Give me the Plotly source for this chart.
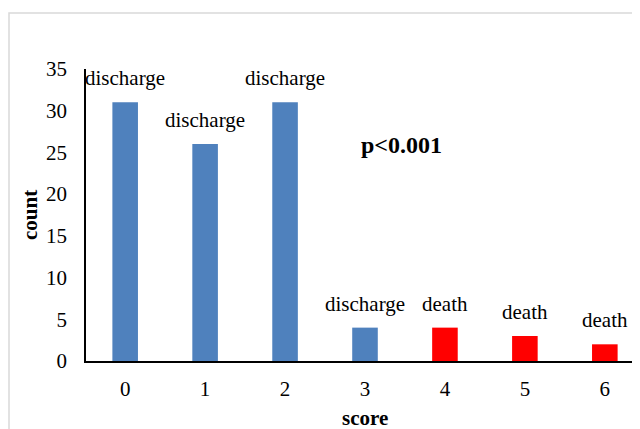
import plotly.graph_objects as go

scores = [0, 1, 2, 3, 4, 5, 6]
counts = [31, 26, 31, 4, 4, 3, 2]
outcomes = ["discharge", "discharge", "discharge", "discharge", "death", "death", "death"]
outcome_colors = {"discharge": "#4F81BD", "death": "#FF0000"}
y_ticks = [0, 5, 10, 15, 20, 25, 30, 35]

FONT = "Liberation Serif, Times New Roman, serif"
FS = 21

fig = go.Figure()
fig.add_trace(go.Bar(
    x=scores, y=counts, width=0.32,
    marker=dict(color=[outcome_colors[o] for o in outcomes], line=dict(width=0)),
    showlegend=False, hoverinfo="skip",
))

for s, c, o in zip(scores, counts, outcomes):
    fig.add_annotation(x=s, y=c, text=o, showarrow=False, xanchor="center",
                       yanchor="bottom", yshift=10,
                       font=dict(family=FONT, size=FS, color="black"))

fig.add_annotation(x=3.46, y=25.9, text="<b>p<0.001</b>", showarrow=False,
                   xanchor="center", yanchor="middle",
                   font=dict(family=FONT, size=24, color="black"))

# axis titles
fig.add_annotation(xref="paper", yref="paper", x=(365 - 86) / 554, y=-0.195,
                   text="<b>score</b>", showarrow=False, xanchor="center", yanchor="middle",
                   font=dict(family=FONT, size=FS, color="black"))
fig.add_annotation(xref="paper", yref="paper", x=-0.101, y=0.5, textangle=-90,
                   text="<b>count</b>", showarrow=False, xanchor="center", yanchor="middle",
                   font=dict(family=FONT, size=FS, color="black"))

# chart area border
fig.add_shape(type="rect", xref="paper", yref="paper",
              x0=-0.139, x1=1.05, y0=-0.4, y1=1.192,
              line=dict(color="#D9D9D9", width=1.5), fillcolor="rgba(0,0,0,0)")

fig.update_layout(
    width=640, height=429,
    margin=dict(l=78, r=8, t=61, b=76),
    paper_bgcolor="white", plot_bgcolor="white",
    font=dict(family=FONT, size=FS, color="black"),
)
fig.update_xaxes(
    range=[-0.49, 6.44], tickmode="array", tickvals=scores,
    ticktext=[str(s) for s in scores],
    showline=True, linecolor="black", linewidth=2, ticks="",
    showgrid=False, zeroline=False, automargin=False, ticklabelstandoff=8,
)
fig.update_yaxes(
    range=[0, 35], tickmode="array", tickvals=y_ticks,
    showline=True, linecolor="black", linewidth=1.5, ticks="",
    showgrid=False, zeroline=False, automargin=False, ticklabelstandoff=13,
)

fig.write_html("out.html")
